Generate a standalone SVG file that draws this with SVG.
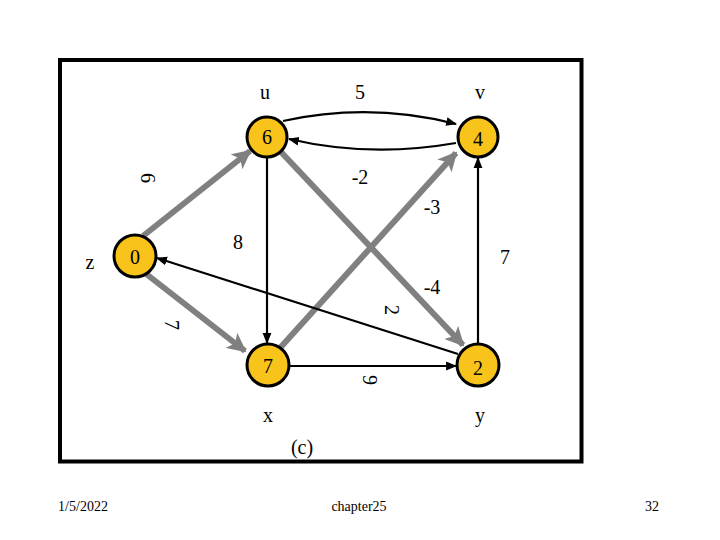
<svg xmlns="http://www.w3.org/2000/svg" width="720" height="540" viewBox="0 0 720 540">
<style>
text{font-family:"Liberation Serif","Times New Roman",serif;fill:#000}
.lbl{font-size:20px;text-anchor:middle;dominant-baseline:central}
.ft{font-size:14px;text-anchor:middle;dominant-baseline:central}
.node circle{fill:#F8C31A;stroke:#000;stroke-width:3}
.blk{stroke:#000;stroke-width:2.2;fill:none;marker-end:url(#ab)}
.gry{stroke:#808080;stroke-width:6;fill:none;marker-end:url(#ag)}
</style>
<defs>
<marker id="ab" viewBox="0 0 10 10" refX="9" refY="5" markerWidth="5" markerHeight="5" orient="auto" markerUnits="strokeWidth"><path d="M0,1 L10,5 L0,9 z" fill="#000"/></marker>
<marker id="ag" viewBox="0 0 10 10" refX="9" refY="5" markerWidth="3.2" markerHeight="3.2" orient="auto" markerUnits="strokeWidth"><path d="M0,0 L10,5 L0,10 L2.5,5 z" fill="#808080"/></marker>
</defs>
<rect x="60" y="60" width="521.5" height="401.5" fill="none" stroke="#000" stroke-width="4"/>
<g id="connectors">
<path class="gry" d="M143,236 L250,151"/>
<path class="gry" d="M145,273 L245,351"/>
<path class="gry" d="M281,152 L463,345"/>
<path class="gry" d="M280,348 L456,153"/>
<path class="blk" d="M283,121 Q370,102 456,124"/>
<path class="blk" d="M456,143 Q370,158 289,139"/>
<path class="blk" d="M267,158 L267,343"/>
<path class="blk" d="M478,344 L478,158"/>
<path class="blk" d="M289,366 L456,366"/>
<path class="blk" d="M458,354 L157,258"/>
</g>
<g id="node-u" class="node"><circle cx="267" cy="137" r="20"/><text class="lbl" x="267" y="137">6</text></g>
<g id="node-v" class="node"><circle cx="478" cy="137" r="20"/><text class="lbl" x="478" y="139">4</text></g>
<g id="node-z" class="node"><circle cx="135" cy="256" r="21"/><text class="lbl" x="135" y="257">0</text></g>
<g id="node-x" class="node"><circle cx="268" cy="365" r="21"/><text class="lbl" x="268" y="366">7</text></g>
<g id="node-y" class="node"><circle cx="478" cy="365" r="21"/><text class="lbl" x="478" y="368">2</text></g>
<g id="labels">
<text class="lbl" x="265" y="92">u</text>
<text class="lbl" x="360" y="92">5</text>
<text class="lbl" x="480" y="92">v</text>
<text class="lbl" x="360" y="177">-2</text>
<text class="lbl" x="432" y="207">-3</text>
<text class="lbl" x="238" y="242">8</text>
<text class="lbl" x="505" y="257">7</text>
<text class="lbl" x="432" y="287">-4</text>
<text class="lbl" x="90" y="262">z</text>
<text class="lbl" x="268" y="415">x</text>
<text class="lbl" x="480" y="415">y</text>
<text class="lbl" x="302" y="447">(c)</text>
<text class="lbl" transform="translate(148,178) rotate(90)">6</text>
<text class="lbl" transform="translate(172,325) rotate(90)">7</text>
<text class="lbl" transform="translate(392,310) rotate(90)">2</text>
<text class="lbl" transform="translate(370,380) rotate(90)">9</text>
</g>
<g id="footer">
<text class="ft" x="83" y="506">1/5/2022</text>
<text class="ft" x="359" y="506">chapter25</text>
<text class="ft" x="652" y="506">32</text>
</g>
</svg>
